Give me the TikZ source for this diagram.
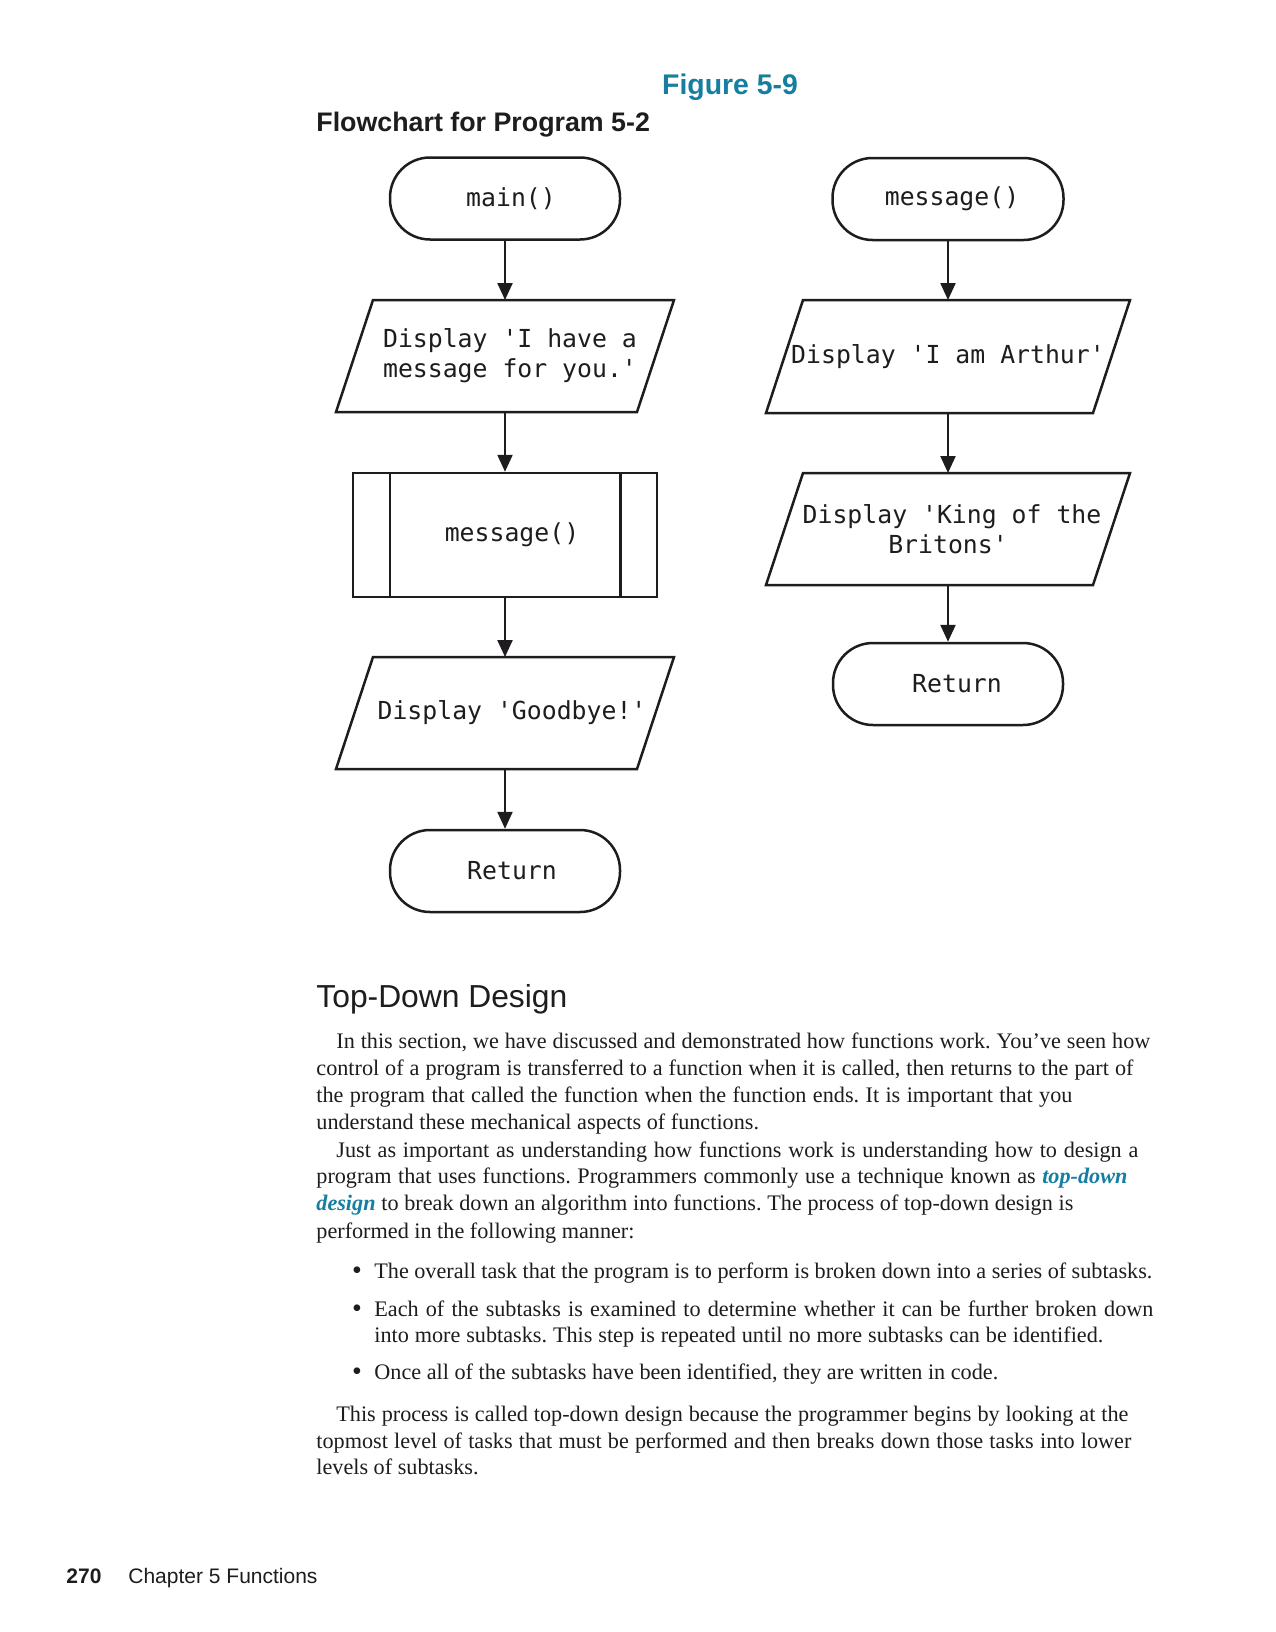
\documentclass[tikz,border=0pt]{standalone}
\usepackage{fontspec}
\setmainfont{Liberation Serif}
\setsansfont{Liberation Sans}
\setmonofont{DejaVu Sans Mono}
\usetikzlibrary{arrows.meta}
\definecolor{figteal}{RGB}{22,126,160}
\definecolor{ink}{RGB}{30,28,30}
\newdimen\pxu \pxu=0.5pt
\newcommand\jline[2]{\hbox to #1\pxu{#2}}
\newcommand\kw[1]{\textcolor{figteal}{\bfseries\itshape #1}}
\frenchspacing
\begin{document}
\begin{tikzpicture}[x=0.5pt,y=-0.5pt,
  every node/.style={text=ink},
  shapeline/.style={draw=ink, line width=1.25pt},
  mono/.style={font=\ttfamily\fontsize{12.4}{15}\selectfont, align=center},
  term/.style={shapeline, mono, rectangle, rounded corners=20pt, minimum width=115pt, minimum height=41pt, inner sep=0pt},
  iobox/.style={mono, rectangle, minimum width=169pt, minimum height=56pt, inner sep=0pt, outer sep=0pt},
  procbox/.style={shapeline, mono, rectangle, minimum width=152pt, minimum height=62pt, inner sep=0pt},
  arr/.style={draw=ink, line width=1.15pt, -{Triangle[length=8.5pt,width=7.5pt]}},
  body/.style={anchor=base west, inner sep=0pt, font=\fontsize{11.1}{13}\selectfont},
  dot/.style={anchor=base, inner sep=0pt, font=\fontsize{14}{13}\selectfont},
  iodraw/.style={shapeline}
]
\fill[white] (0,0) rectangle (1275,1632);
\useasboundingbox (0,0) rectangle (1275,1632);

% titles
\node[anchor=base, inner sep=0pt, font=\sffamily\bfseries\fontsize{14.2}{16}\selectfont, text=figteal] (figno) at (730,95) {Figure 5-9};
\node[anchor=base west, inner sep=0pt, font=\sffamily\bfseries\fontsize{13.4}{16}\selectfont] (figtitle) at (316,132) {Flowchart for Program 5-2};

% left flowchart
\node[term] (t1) at (505,198.5) {\hspace*{6pt}main()};
\node[iobox] (p1) at (505,356) {\hspace*{5pt}Display 'I have a\\\hspace*{5pt}message for you.'};
\draw[iodraw] ([xshift=18.5pt]p1.north west) -- (p1.north east) -- ([xshift=-18.5pt]p1.south east) -- (p1.south west) -- cycle;
\node[procbox] (b1) at (505,535) {\hspace*{7pt}message()};
\draw[shapeline] ([xshift=19pt]b1.north west) -- ([xshift=19pt]b1.south west);
\draw[shapeline] ([xshift=-19pt]b1.north east) -- ([xshift=-19pt]b1.south east);
\node[iobox] (p2) at (505,713) {\hspace*{7pt}Display 'Goodbye!'};
\draw[iodraw] ([xshift=18.5pt]p2.north west) -- (p2.north east) -- ([xshift=-18.5pt]p2.south east) -- (p2.south west) -- cycle;
\node[term] (t2) at (505,871) {\hspace*{7pt}Return};

\draw[arr] (t1) -- (p1);
\draw[arr] (p1) -- (b1);
\draw[arr] (b1) -- (p2);
\draw[arr] (p2) -- (t2);

% right flowchart
\node[term, minimum width=115.5pt] (t3) at (948,199) {\hspace*{4pt}message()};
\node[iobox, minimum width=182pt, minimum height=56.5pt] (p3) at (948,356.5) {\raisebox{-5pt}{Display 'I am Arthur'}};
\draw[iodraw] ([xshift=18.5pt]p3.north west) -- (p3.north east) -- ([xshift=-18.5pt]p3.south east) -- (p3.south west) -- cycle;
\node[iobox, minimum width=182pt] (p4) at (948,529) {\hspace*{4pt}Display 'King of the\\Britons'};
\draw[iodraw] ([xshift=18.5pt]p4.north west) -- (p4.north east) -- ([xshift=-18.5pt]p4.south east) -- (p4.south west) -- cycle;
\node[term] (t4) at (948,684) {\hspace*{9pt}Return};

\draw[arr] (t3) -- (p3);
\draw[arr] (p3) -- (p4);
\draw[arr] (p4) -- (t4);

% section text
\node[anchor=base west, inner sep=0pt, font=\sffamily\fontsize{15.9}{18}\selectfont] (head) at (316,1007) {Top-Down Design};

\node[body] (l1) at (336,1048) {\jline{814}{In this section, we have discussed and demonstrated how functions work. You’ve seen how}};
\node[body] (l2) at (316,1075) {\jline{817}{control of a program is transferred to a function when it is called, then returns to the part of}};
\node[body] (l3) at (316,1102) {\jline{756}{the program that called the function when the function ends. It is important that you}};
\node[body] (l4) at (316,1129) {understand these mechanical aspects of functions.};
\node[body] (l5) at (336,1157) {\jline{802}{Just as important as understanding how functions work is understanding how to design a}};
\node[body] (l6) at (316,1183) {\jline{811}{program that uses functions. Programmers commonly use a technique known as \kw{top-down}}};
\node[body] (l7) at (316,1210) {\jline{757}{\kw{design} to break down an algorithm into functions. The process of top-down design is}};
\node[body] (l8) at (316,1238) {performed in the following manner:};

\node[dot] (d1) at (357,1279) {\textbullet};
\node[body] (b1l) at (374,1278) {\jline{778}{The overall task that the program is to perform is broken down into a series of subtasks.}};
\node[dot] (d2) at (357,1317) {\textbullet};
\node[body] (b2l) at (374,1316) {\jline{779}{Each of the subtasks is examined to determine whether it can be further broken down}};
\node[body] (b2m) at (374,1342) {\jline{729}{into more subtasks. This step is repeated until no more subtasks can be identified.}};
\node[dot] (d3) at (357,1380) {\textbullet};
\node[body] (b3l) at (374,1379) {Once all of the subtasks have been identified, they are written in code.};

\node[body] (l9) at (336,1421) {\jline{792}{This process is called top-down design because the programmer begins by looking at the}};
\node[body] (l10) at (316,1448) {\jline{815}{topmost level of tasks that must be performed and then breaks down those tasks into lower}};
\node[body] (l11) at (316,1474) {levels of subtasks.};

% footer
\node[anchor=base west, inner sep=0pt, font=\sffamily\bfseries\fontsize{10.5}{12}\selectfont] (pg) at (66,1583) {270};
\node[anchor=base west, inner sep=0pt, font=\sffamily\fontsize{10.5}{12}\selectfont] (chap) at (128,1583) {Chapter 5 Functions};
\end{tikzpicture}
\end{document}
